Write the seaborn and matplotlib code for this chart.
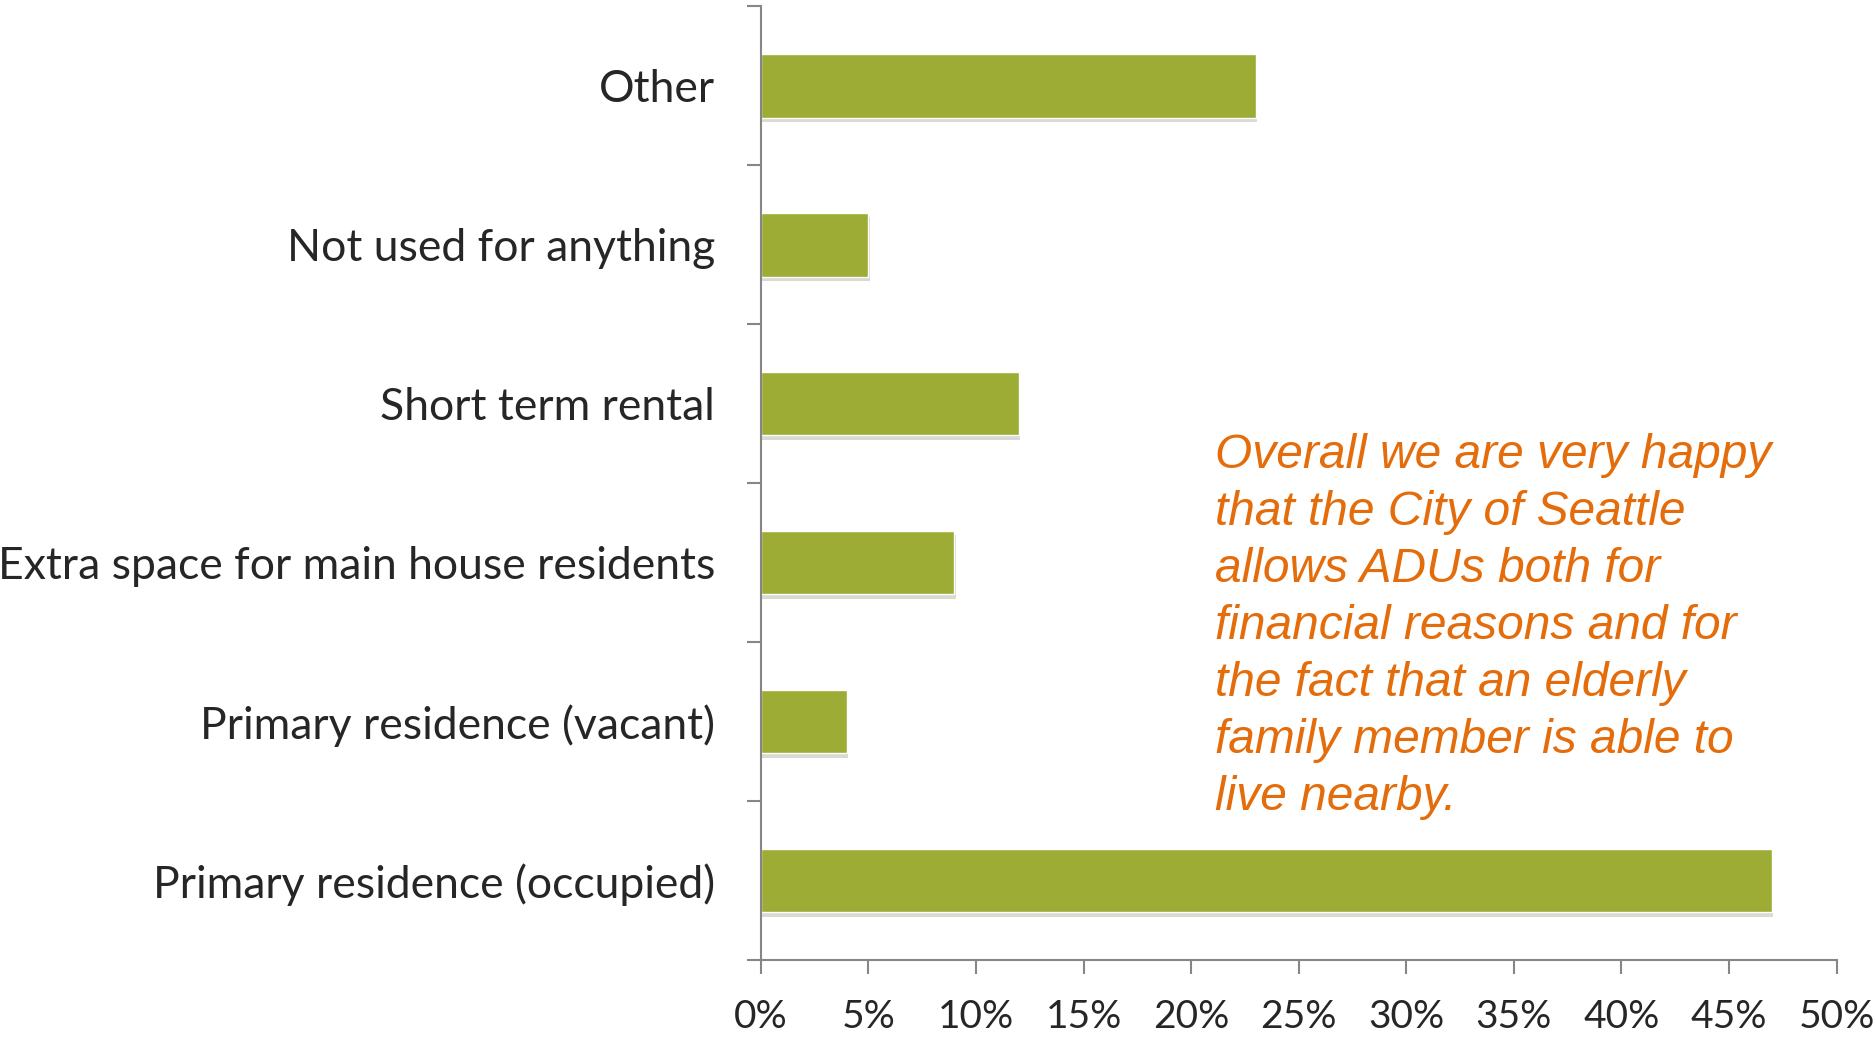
import matplotlib
matplotlib.use('Agg')
from matplotlib import pyplot as plt
import matplotlib.patheffects as pe
import seaborn as sbn

# Data
categories = ['Other',
              'Not used for anything',
              'Short term rental',
              'Extra space for main house residents',
              'Primary residence (vacant)',
              'Primary residence (occupied)']
percent = [23, 5, 12, 9, 4, 47]
xticks = [0, 5, 10, 15, 20, 25, 30, 35, 40, 45, 50]
note = ('Overall we are very happy\n'
        'that the City of Seattle\n'
        'allows ADUs both for\n'
        'financial reasons and for\n'
        'the fact that an elderly\n'
        'family member is able to\n'
        'live nearby.')

sbn.set_style('white')
plt.rcParams['font.family'] = ['Lato', 'DejaVu Sans']

fig = plt.figure(figsize=(18.74, 10.38), dpi=100)
ax = fig.add_axes([0.406, 0.075, 0.574, 0.919])

sbn.barplot(x=percent, y=categories, orient='h', color='#9DAC35',
            width=0.4, saturation=1, ax=ax)
for bar in ax.patches:
    bar.set_path_effects([pe.SimplePatchShadow(offset=(1, -3), alpha=0.18),
                          pe.Normal()])

ax.set_xlim(0, 50)
ax.set_ylim(5.5, -0.5)
ax.set_xticks(xticks)
ax.set_xticklabels([f'{t}%' for t in xticks])
ax.set_yticks(range(len(categories)))
ax.set_yticklabels(categories)
ax.set_yticks([i - 0.5 for i in range(len(categories) + 1)], minor=True)

grey = '#868686'
for side in ['top', 'right']:
    ax.spines[side].set_visible(False)
for side in ['left', 'bottom']:
    ax.spines[side].set_color(grey)
    ax.spines[side].set_linewidth(1.5)

ax.tick_params(axis='y', which='major', length=0, pad=33, labelsize=32)
ax.tick_params(axis='y', which='minor', left=True, length=10, width=1.5, color=grey)
ax.tick_params(axis='x', which='major', bottom=True, length=10, width=1.5,
               color=grey, pad=18, labelsize=28)
ax.set_xlabel('')
ax.set_ylabel('')

ax.text(21.1, 0.553, note, transform=ax.get_xaxis_transform(),
        ha='left', va='top', fontsize=34.5, style='italic',
        family='Liberation Sans', color='#E46C0A', linespacing=1.345)

fig.savefig('out.png', dpi=100)
